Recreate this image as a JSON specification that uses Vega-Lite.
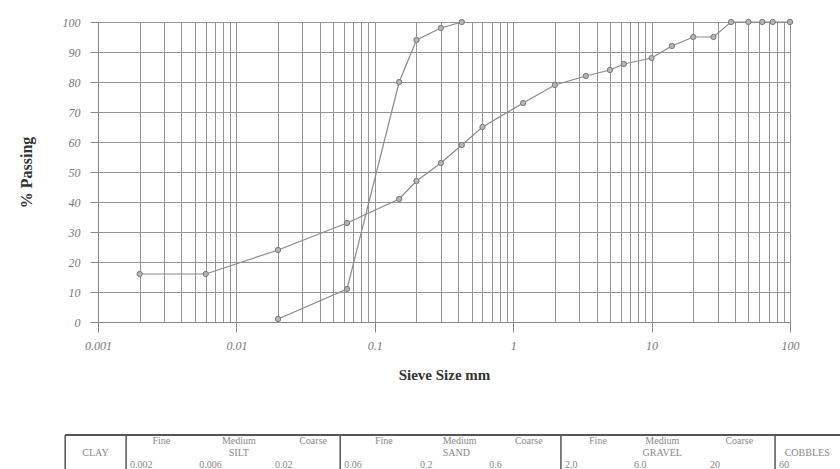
{
  "$schema": "https://vega.github.io/schema/vega-lite/v6.json",
  "background": "white",
  "padding": {"left": 18, "top": 16, "right": 5, "bottom": 0},
  "config": {"view": {"stroke": null}, "font": "Liberation Serif"},
  "spacing": 52,
  "vconcat": [
    {
      "width": 692,
      "height": 300,
      "data": {
        "values": [
          {"series": "A", "size": 0.02, "passing": 1},
          {"series": "A", "size": 0.063, "passing": 11},
          {"series": "A", "size": 0.15, "passing": 80},
          {"series": "A", "size": 0.2, "passing": 94},
          {"series": "A", "size": 0.3, "passing": 98},
          {"series": "A", "size": 0.425, "passing": 100},
          {"series": "B", "size": 0.002, "passing": 16},
          {"series": "B", "size": 0.006, "passing": 16},
          {"series": "B", "size": 0.02, "passing": 24},
          {"series": "B", "size": 0.063, "passing": 33},
          {"series": "B", "size": 0.15, "passing": 41},
          {"series": "B", "size": 0.2, "passing": 47},
          {"series": "B", "size": 0.3, "passing": 53},
          {"series": "B", "size": 0.425, "passing": 59},
          {"series": "B", "size": 0.6, "passing": 65},
          {"series": "B", "size": 1.18, "passing": 73},
          {"series": "B", "size": 2, "passing": 79},
          {"series": "B", "size": 3.35, "passing": 82},
          {"series": "B", "size": 5, "passing": 84},
          {"series": "B", "size": 6.3, "passing": 86},
          {"series": "B", "size": 10, "passing": 88},
          {"series": "B", "size": 14, "passing": 92},
          {"series": "B", "size": 20, "passing": 95},
          {"series": "B", "size": 28, "passing": 95},
          {"series": "B", "size": 37.5, "passing": 100},
          {"series": "B", "size": 50, "passing": 100},
          {"series": "B", "size": 63, "passing": 100},
          {"series": "B", "size": 75, "passing": 100},
          {"series": "B", "size": 100, "passing": 100}
        ]
      },
      "encoding": {
        "x": {
          "field": "size",
          "type": "quantitative",
          "scale": {"type": "log", "domain": [0.001, 100], "nice": false},
          "axis": {
            "title": "Sieve Size mm",
            "values": [0.001,0.002,0.003,0.004,0.005,0.006,0.007,0.008,0.009,0.01,0.02,0.03,0.04,0.05,0.06,0.07,0.08,0.09,0.1,0.2,0.3,0.4,0.5,0.6,0.7,0.8,0.9,1,2,3,4,5,6,7,8,9,10,20,30,40,50,60,70,80,90,100],
            "format": "~g",
            "labelExpr": "indexof([0.001,0.01,0.1,1,10,100], datum.value) >= 0 ? datum.label : ''",
            "tickOpacity": {"condition": {"test": "indexof([0.001,0.01,0.1,1,10,100], datum.value) >= 0", "value": 1}, "value": 0},
            "tickSize": 10,
            "tickColor": "#888",
            "grid": true,
            "gridColor": "#959595",
            "gridWidth": 1,
            "domainColor": "#888",
            "labelFont": "Liberation Serif",
            "labelFontStyle": "italic",
            "labelFontSize": 12,
            "labelColor": "#777",
            "labelPadding": 8,
            "labelFlush": false,
            "labelOverlap": false,
            "titleFont": "Liberation Serif",
            "titleFontWeight": "bold",
            "titleFontSize": 15,
            "titleColor": "#333",
            "titlePadding": 16
          }
        },
        "y": {
          "field": "passing",
          "type": "quantitative",
          "scale": {"domain": [0, 100], "nice": false},
          "axis": {
            "title": "% Passing",
            "values": [0,10,20,30,40,50,60,70,80,90,100],
            "tickSize": 8,
            "tickColor": "#888",
            "grid": true,
            "gridColor": "#959595",
            "gridWidth": 1,
            "domainColor": "#888",
            "labelFont": "Liberation Serif",
            "labelFontStyle": "italic",
            "labelFontSize": 12,
            "labelColor": "#777",
            "labelPadding": 10,
            "titleFont": "Liberation Serif",
            "titleFontWeight": "bold",
            "titleFontSize": 16,
            "titleColor": "#333",
            "titlePadding": 28
          }
        },
        "detail": {"field": "series", "type": "nominal"}
      },
      "layer": [
        {"mark": {"type": "line", "color": "#8a8a8a", "strokeWidth": 1.2}},
        {"mark": {"type": "point", "shape": "circle", "filled": true, "size": 28, "fill": "#b5b5b5", "stroke": "#7a7a7a", "strokeWidth": 1, "opacity": 1}}
      ]
    },
    {
      "width": 692,
      "height": 36,
      "data": {
        "values": [
          {"kind": "border", "size": 0.00076},
          {"kind": "border", "size": 0.002},
          {"kind": "border", "size": 0.06},
          {"kind": "border", "size": 2},
          {"kind": "border", "size": 60},
          {"kind": "top", "size": 0.00076, "size2": 400, "row": "head"},
          {"kind": "sub", "row": "head", "label": "Fine", "size": 0.0035},
          {"kind": "sub", "row": "head", "label": "Medium", "size": 0.012},
          {"kind": "sub", "row": "head", "label": "Coarse", "size": 0.039},
          {"kind": "sub", "row": "head", "label": "Fine", "size": 0.12},
          {"kind": "sub", "row": "head", "label": "Medium", "size": 0.4},
          {"kind": "sub", "row": "head", "label": "Coarse", "size": 1.2},
          {"kind": "sub", "row": "head", "label": "Fine", "size": 3.6},
          {"kind": "sub", "row": "head", "label": "Medium", "size": 10},
          {"kind": "sub", "row": "head", "label": "Coarse", "size": 34},
          {"kind": "class", "row": "group", "label": "CLAY", "size": 0.00123},
          {"kind": "class", "row": "group", "label": "SILT", "size": 0.012},
          {"kind": "class", "row": "group", "label": "SAND", "size": 0.38},
          {"kind": "class", "row": "group", "label": "GRAVEL", "size": 10},
          {"kind": "class", "row": "group", "label": "COBBLES", "size": 100},
          {"kind": "bound", "row": "bound", "label": "0.002", "size": 0.002},
          {"kind": "bound", "row": "bound", "label": "0.006", "size": 0.006},
          {"kind": "bound", "row": "bound", "label": "0.02", "size": 0.02},
          {"kind": "bound", "row": "bound", "label": "0.06", "size": 0.06},
          {"kind": "bound", "row": "bound", "label": "0.2", "size": 0.2},
          {"kind": "bound", "row": "bound", "label": "0.6", "size": 0.6},
          {"kind": "bound", "row": "bound", "label": "2.0", "size": 2},
          {"kind": "bound", "row": "bound", "label": "6.0", "size": 6},
          {"kind": "bound", "row": "bound", "label": "20", "size": 20},
          {"kind": "bound", "row": "bound", "label": "60", "size": 60}
        ]
      },
      "layer": [
        {
          "transform": [{"filter": "datum.kind == 'border'"}],
          "mark": {"type": "rule", "color": "#555", "strokeWidth": 1.5},
          "encoding": {
            "x": {"field": "size", "type": "quantitative", "scale": {"type": "log", "domain": [0.00128, 76.1], "nice": false}, "axis": null}
          }
        },
        {
          "transform": [{"filter": "datum.kind == 'top'"}],
          "mark": {"type": "rule", "color": "#555", "strokeWidth": 2},
          "encoding": {
            "x": {"field": "size", "type": "quantitative", "axis": null},
            "x2": {"field": "size2"},
            "y": {"field": "row", "type": "nominal", "scale": {"domain": ["head", "group", "bound"]}, "axis": null, "bandPosition": 0}
          }
        },
        {
          "transform": [{"filter": "datum.kind == 'sub' || datum.kind == 'class'"}],
          "mark": {"type": "text", "align": "center", "baseline": "middle", "fontSize": 10, "color": "#888", "font": "Liberation Serif"},
          "encoding": {
            "x": {"field": "size", "type": "quantitative", "axis": null},
            "y": {"field": "row", "type": "nominal", "axis": null},
            "text": {"field": "label"}
          }
        },
        {
          "transform": [{"filter": "datum.kind == 'bound'"}],
          "mark": {"type": "text", "align": "left", "baseline": "middle", "dx": 4, "fontSize": 10, "color": "#888", "font": "Liberation Serif"},
          "encoding": {
            "x": {"field": "size", "type": "quantitative", "axis": null},
            "y": {"field": "row", "type": "nominal", "axis": null},
            "text": {"field": "label"}
          }
        }
      ]
    }
  ]
}
